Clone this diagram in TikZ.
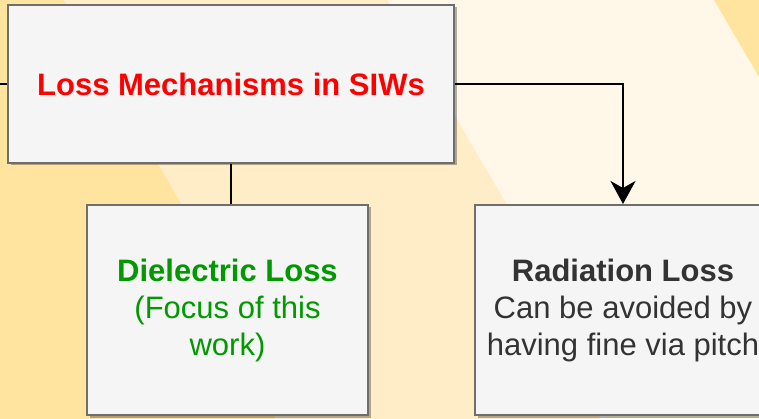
\documentclass[tikz,border=0pt]{standalone}
\usepackage{fontspec}
\setmainfont{Liberation Sans}
\usetikzlibrary{arrows.meta,shadows}

\definecolor{bandDark}{HTML}{FFE4A0}
\definecolor{bandMid}{HTML}{FFEDC8}
\definecolor{bandLight}{HTML}{FFF8E8}
\definecolor{boxfill}{HTML}{F5F5F5}
\definecolor{boxline}{HTML}{6E6E6E}
\definecolor{txtRed}{HTML}{FF0000}
\definecolor{txtGreen}{HTML}{009900}
\definecolor{txtGrey}{HTML}{333333}

\begin{document}
\begin{tikzpicture}[x=1pt,y=-1pt,
  box/.style={draw=boxline, line width=2pt, fill=boxfill, inner sep=0pt,
    align=center, font=\fontsize{31}{37}\selectfont,
    drop shadow={shadow xshift=2.5pt, shadow yshift=-2.5pt, opacity=0.3, fill=black}},
  conn/.style={draw=black, line width=2pt},
  tip/.style={-{Stealth[length=23pt,width=25pt,inset=7pt]}}]

  % page frame
  \useasboundingbox (0,0) rectangle (759,419);

  % diagonal background bands
  \fill[bandLight] (0,0) rectangle (759,419);
  \fill[bandDark] (0,0) -- (64,0) -- (182,205) -- (275,419) -- (0,419) -- cycle;
  \fill[bandMid] (64,0) -- (387,0) -- (507,205) -- (600,419) -- (275,419) -- (182,205) -- cycle;
  \fill[bandDark] (714,0) -- (759,0) -- (759,77) -- cycle;

  % boxes
  \node[box, minimum width=446pt, minimum height=158pt] (main) at (231,84)
    {\textcolor{txtRed}{\bfseries Loss Mechanisms in SIWs}};
  \node[box, minimum width=281pt, minimum height=210pt, text=txtGreen] (diel) at (227.5,310)
    {\bfseries Dielectric Loss\\(Focus of this\\work)};
  \node[box, minimum width=296pt, minimum height=210pt, text=txtGrey] (rad) at (623,310)
    {\bfseries Radiation Loss\\Can be avoided by\\having fine via pitch};

  % connectors
  \coordinate (lin) at (0,84);
  \draw[conn] (lin) -- (main.west);
  \draw[conn] (main.south) -- (main.south |- diel.north);
  \draw[conn, tip] (main.east) -| (rad.north);
\end{tikzpicture}
\end{document}
